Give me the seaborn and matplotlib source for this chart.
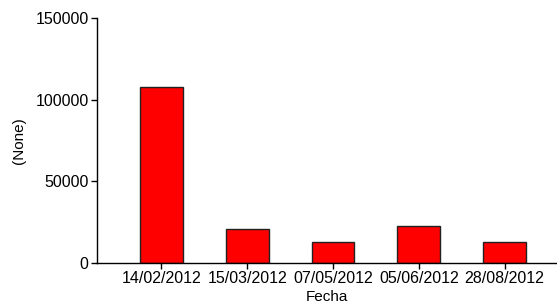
import pandas as pd
import numpy as np
import matplotlib
matplotlib.use('Agg')
import matplotlib.pyplot as plt
import seaborn as sns

# Data
fechas = ['14/02/2012', '15/03/2012', '07/05/2012', '05/06/2012', '28/08/2012']
valores = [108000, 21000, 13000, 22800, 12900]

df = pd.DataFrame({'Fecha': fechas, 'Valor': valores})

sns.set_style('ticks')
plt.rcParams['font.family'] = ['Liberation Sans', 'DejaVu Sans']
plt.rcParams['font.size'] = 11
plt.rcParams['text.color'] = 'black'
plt.rcParams['axes.labelcolor'] = 'black'
plt.rcParams['xtick.color'] = 'black'
plt.rcParams['ytick.color'] = 'black'

fig = plt.figure(figsize=(5.57, 3.04), dpi=100)
ax = fig.add_axes([0.174, 0.135, 0.826, 0.806])

sns.barplot(data=df, x='Fecha', y='Valor', color='#FF0000', saturation=1,
            edgecolor='#222222', linewidth=1, width=0.5, ax=ax)

ax.set_xlim(-0.75, 4.61)
ax.set_ylim(0, 150000)
ax.set_yticks([0, 50000, 100000, 150000])
ax.set_xlabel('Fecha', fontsize=11, labelpad=3)
ax.set_ylabel('(None)', fontsize=11, labelpad=7)
ax.tick_params(axis='both', labelsize=11.5, length=4, width=1, pad=2)
for s in ['left', 'bottom']:
    ax.spines[s].set_color('black')
    ax.spines[s].set_linewidth(1)
sns.despine(ax=ax)

fig.savefig('out.png', dpi=100)
